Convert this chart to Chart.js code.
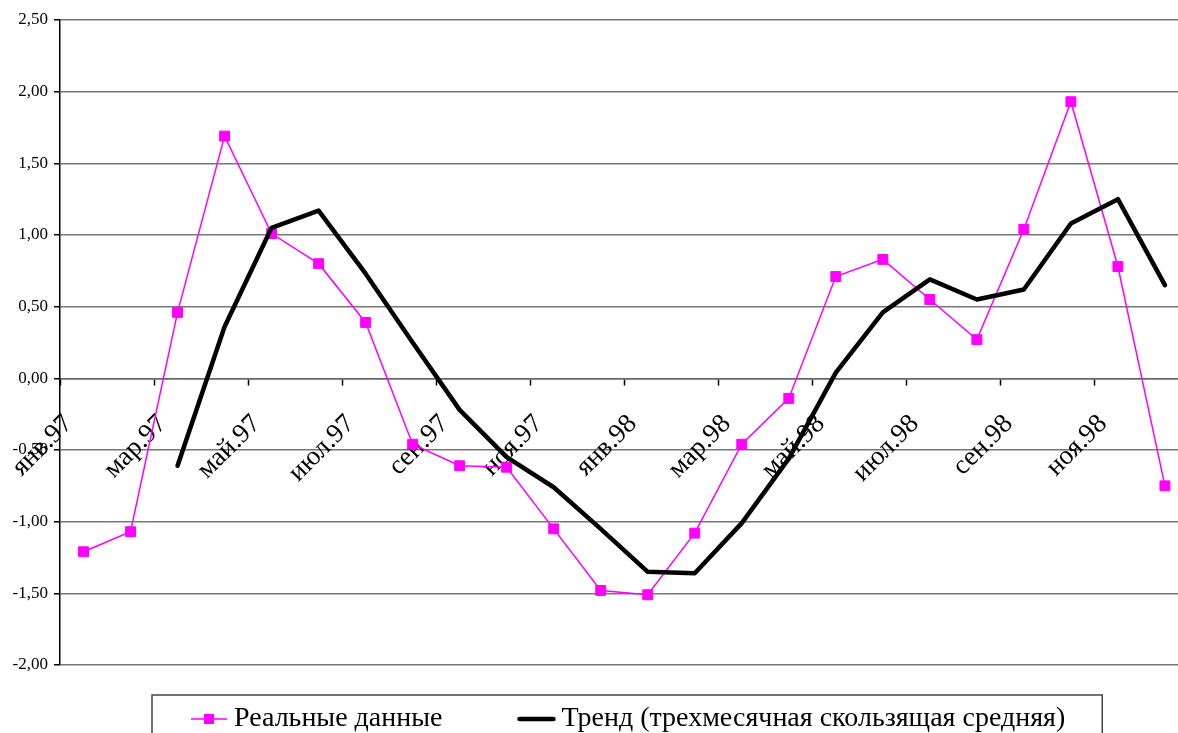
<!DOCTYPE html>
<html>
<head>
<meta charset="utf-8">
<script src="https://cdn.jsdelivr.net/npm/chart.js@4.4.1/dist/chart.umd.min.js"></script>
<style>
    html, body { margin: 0; padding: 0; background: #fff; overflow: hidden; }
    #wrap { width: 1212px; height: 786px; }
</style>
</head>
<body>
<div id="wrap"><canvas id="trend-chart" width="1212" height="786"></canvas></div>
<script>
    "use strict";

    // Data
    var months = ["янв.97", "фев.97", "мар.97", "апр.97", "май.97", "июн.97",
                  "июл.97", "авг.97", "сен.97", "окт.97", "ноя.97", "дек.97",
                  "янв.98", "фев.98", "мар.98", "апр.98", "май.98", "июн.98",
                  "июл.98", "авг.98", "сен.98", "окт.98", "ноя.98", "дек.98"];
    var realData = [-1.21, -1.07, 0.46, 1.69, 1.01, 0.80, 0.39, -0.46, -0.61, -0.62, -1.05, -1.48,
                    -1.51, -1.08, -0.46, -0.14, 0.71, 0.83, 0.55, 0.27, 1.04, 1.93, 0.78, -0.75];
    var trendData = [null, null, -0.61, 0.36, 1.05, 1.17, 0.73, 0.25, -0.22, -0.55, -0.76, -1.05,
                     -1.35, -1.36, -1.01, -0.56, 0.04, 0.46, 0.69, 0.55, 0.62, 1.08, 1.25, 0.65];
    var yMin = -2, yMax = 2.5, yStep = 0.5;
    var seriesNames = ["Реальные данные", "Тренд (трехмесячная скользящая средняя)"];

    var MAGENTA = "#FF00FF";
    var SERIF = "'Liberation Serif', 'Times New Roman', serif";


    // Legend icons (line + marker, thick line)
    var iconReal = document.createElement("canvas");
    iconReal.width = 36; iconReal.height = 12;
    var c1 = iconReal.getContext("2d");
    c1.strokeStyle = MAGENTA; c1.lineWidth = 1.5;
    c1.beginPath(); c1.moveTo(0, 6); c1.lineTo(36, 6); c1.stroke();
    c1.fillStyle = MAGENTA; c1.fillRect(13, 1, 10, 10);

    var iconTrend = document.createElement("canvas");
    iconTrend.width = 40; iconTrend.height = 8;
    var c2 = iconTrend.getContext("2d");
    c2.strokeStyle = "#000"; c2.lineWidth = 4.5; c2.lineCap = "round";
    c2.beginPath(); c2.moveTo(3, 4); c2.lineTo(37, 4); c2.stroke();


    // Legend placement + frame
    var legendFrame = {
        id: "legendFrame",
        afterLayout: function (chart) {
            var lg = chart.legend;
            lg.left += 115; lg.right += 115;
            lg.top -= 43; lg.bottom -= 43;
        },
        afterDraw: function (chart) {
            var hb = chart.legend.legendHitBoxes;
            if (!hb || hb.length < 2) return;
            var ctx = chart.ctx;
            var left = hb[0].left - 46;
            var right = hb[1].left + hb[1].width + 37;
            var top = hb[0].top + hb[0].height / 2 - 24;
            ctx.save();
            ctx.strokeStyle = "#444";
            ctx.lineWidth = 1.5;
            ctx.strokeRect(left, top, right - left, 200);
            ctx.restore();
        }
    };


    // Chart
    var ctx = document.getElementById("trend-chart").getContext("2d");
    var myChart = new Chart(ctx, {
        type: "line",
        data: {
            labels: months,
            datasets: [{
                    label: seriesNames[0],
                    data: realData,
                    borderColor: MAGENTA,
                    backgroundColor: MAGENTA,
                    borderWidth: 1.5,
                    pointStyle: "rect",
                    pointRadius: 7,
                    pointBorderWidth: 1,
                    pointBackgroundColor: MAGENTA,
                    pointBorderColor: MAGENTA,
                    tension: 0,
                    order: 1
                },
                {
                    label: seriesNames[1],
                    data: trendData,
                    borderColor: "#000",
                    backgroundColor: "#000",
                    borderWidth: 4.5,
                    borderCapStyle: "round",
                    borderJoinStyle: "round",
                    pointRadius: 0,
                    tension: 0,
                    order: 0
                }
            ]
        },
        options: {
            responsive: false,
            animation: false,
            devicePixelRatio: 1,
            layout: { padding: { top: 20, left: 0, right: 0, bottom: 0 } },
            plugins: {
                tooltip: { enabled: false },
                legend: {
                    position: "bottom",
                    align: "start",
                    labels: {
                        usePointStyle: true,
                        pointStyleWidth: 22,
                        padding: 83,
                        color: "#000",
                        font: { family: SERIF, size: 28 },
                        generateLabels: function (chart) {
                            return [
                                { text: seriesNames[0], pointStyle: iconReal, fillStyle: MAGENTA, strokeStyle: MAGENTA, lineWidth: 0, hidden: false, datasetIndex: 0 },
                                { text: seriesNames[1], pointStyle: iconTrend, fillStyle: "#000", strokeStyle: "#000", lineWidth: 0, hidden: false, datasetIndex: 1 }
                            ];
                        }
                    }
                }
            },
            scales: {
                x: {
                    position: { y: 0 },
                    offset: true,
                    grid: {
                        offset: true,
                        drawOnChartArea: false,
                        drawTicks: true,
                        tickLength: 6,
                        tickWidth: 1.5,
                        tickColor: function (c) { return c.index % 2 === 0 ? "#000" : "rgba(0,0,0,0)"; }
                    },
                    border: { color: "#666", width: 1.5 },
                    ticks: {
                        autoSkip: false,
                        minRotation: 45,
                        maxRotation: 45,
                        padding: 24,
                        labelOffset: -15,
                        color: "#000",
                        font: { family: SERIF, size: 27 },
                        callback: function (value, index) {
                            return index % 2 === 0 ? months[index] : "";
                        }
                    }
                },
                y: {
                    min: yMin,
                    max: yMax,
                    afterFit: function (scale) { scale.width = 60; },
                    grid: {
                        color: "#777",
                        lineWidth: 1.5,
                        tickColor: "#000",
                        tickLength: 6
                    },
                    border: { color: "#000", width: 1.5 },
                    ticks: {
                        stepSize: yStep,
                        padding: 6,
                        color: "#000",
                        font: { family: SERIF, size: 17 },
                        callback: function (value) {
                            return value.toFixed(2).replace(".", ",");
                        }
                    }
                }
            }
        },
        plugins: [legendFrame]
    });
</script>
</body>
</html>
